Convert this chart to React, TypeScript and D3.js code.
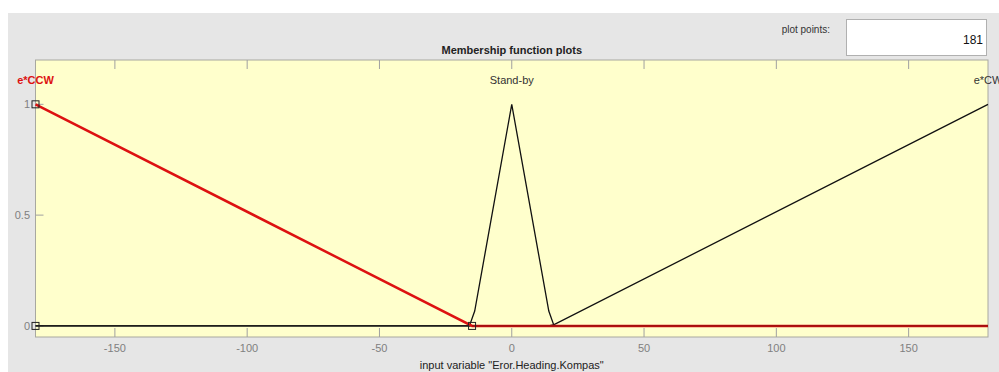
import React from "react";
import * as d3 from "d3";

const xTicks = [-150, -100, -50, 0, 50, 100, 150];
const yTicks = [0, 0.5, 1];
const mfNames = ["e*CCW", "Stand-by", "e*CW"];
const ccwX = [-180, -15, 180];
const ccwY = [1, 0, 0];
const standbyX = [-180, -16, -14, 0, 14, 16, 180];
const standbyY = [0, 0, 0.067, 1, 0.067, 0, 0];
const cwX = [-180, 14, 16, 180];
const cwY = [0, 0, 0.006, 1];
const mfPeaks = [-180, 0, 180];
const handleX = [-180, -180, -15];
const handleY = [0, 1, 0];
const plotPoints = "181";
const xLabel = 'input variable "Eror.Heading.Kompas"';
const title = "Membership function plots";

export default function App() {
  const W = 999, H = 372;
  const left = 35.5, right = 988, top = 60, bottom = 337;
  const x = d3.scaleLinear().domain([-180, 180]).range([left, right]);
  const y = d3.scaleLinear().domain([-0.05, 1.2]).range([bottom, top]);
  const line = d3.line<[number, number]>().x(d => x(d[0])).y(d => y(d[1]));
  const zip = (a: number[], b: number[]) => a.map((v, i) => [v, b[i]] as [number, number]);
  const font = "Liberation Sans, Arial, sans-serif";
  return (
    <svg width={W} height={H} style={{ position: "fixed", left: 0, top: 0, fontFamily: font }}>
      <rect x={0} y={0} width={W} height={H} fill="#ffffff" />
      <rect x={8} y={13} width={W - 8} height={H - 13} fill="#e6e6e6" />
      <text x={830} y={33} fontSize={10} textAnchor="end" fill="#333">plot points:</text>
      <rect x={846.5} y={19.5} width={140} height={36} fill="#ffffff" stroke="#b0b0b0" />
      <text x={983} y={44} fontSize={12} textAnchor="end" fill="#111">{plotPoints}</text>
      <text x={x(0)} y={54} fontSize={11} fontWeight="bold" textAnchor="middle" fill="#222">{title}</text>
      <rect x={left} y={top} width={right - left} height={bottom - top} fill="#ffffcc" stroke="#a8a8a0" strokeWidth={1} />
      {xTicks.map(t => (
        <g key={t}>
          <line x1={x(t)} x2={x(t)} y1={bottom} y2={bottom - 9} stroke="#a0a0a0" />
          <line x1={x(t)} x2={x(t)} y1={top} y2={top + 9} stroke="#a0a0a0" />
          <text x={x(t)} y={352} fontSize={11} textAnchor="middle" fill="#808080">{t}</text>
        </g>
      ))}
      {yTicks.map(t => (
        <g key={t}>
          <line x1={left} x2={left + 8} y1={y(t)} y2={y(t)} stroke="#a0a0a0" />
          <text x={30} y={y(t) + 4} fontSize={11} textAnchor="end" fill="#808080">{t}</text>
        </g>
      ))}
      <path d={line(zip(standbyX, standbyY)) || ""} fill="none" stroke="#111" strokeWidth={1.3} />
      <path d={line(zip(cwX, cwY)) || ""} fill="none" stroke="#111" strokeWidth={1.3} />
      <path d={line(zip(ccwX, ccwY)) || ""} fill="none" stroke="#dd1111" strokeWidth={2.5} />
      <line x1={x(-15)} x2={x(180)} y1={y(0)} y2={y(0)} stroke="#7a1010" strokeWidth={1} />
      {handleX.map((hx, i) => (
        <rect key={i} x={x(hx) - 3.5} y={y(handleY[i]) - 3.5} width={7} height={7} fill="none" stroke="#222" strokeWidth={1} />
      ))}
      {mfNames.map((n, i) => (
        <text key={n} x={x(mfPeaks[i])} y={84} fontSize={11} textAnchor="middle"
          fontWeight={i === 0 ? "bold" : "normal"} fill={i === 0 ? "#dd1111" : "#333"}>{n}</text>
      ))}
      <text x={x(0)} y={369} fontSize={11} textAnchor="middle" fill="#222">{xLabel}</text>
    </svg>
  );
}
